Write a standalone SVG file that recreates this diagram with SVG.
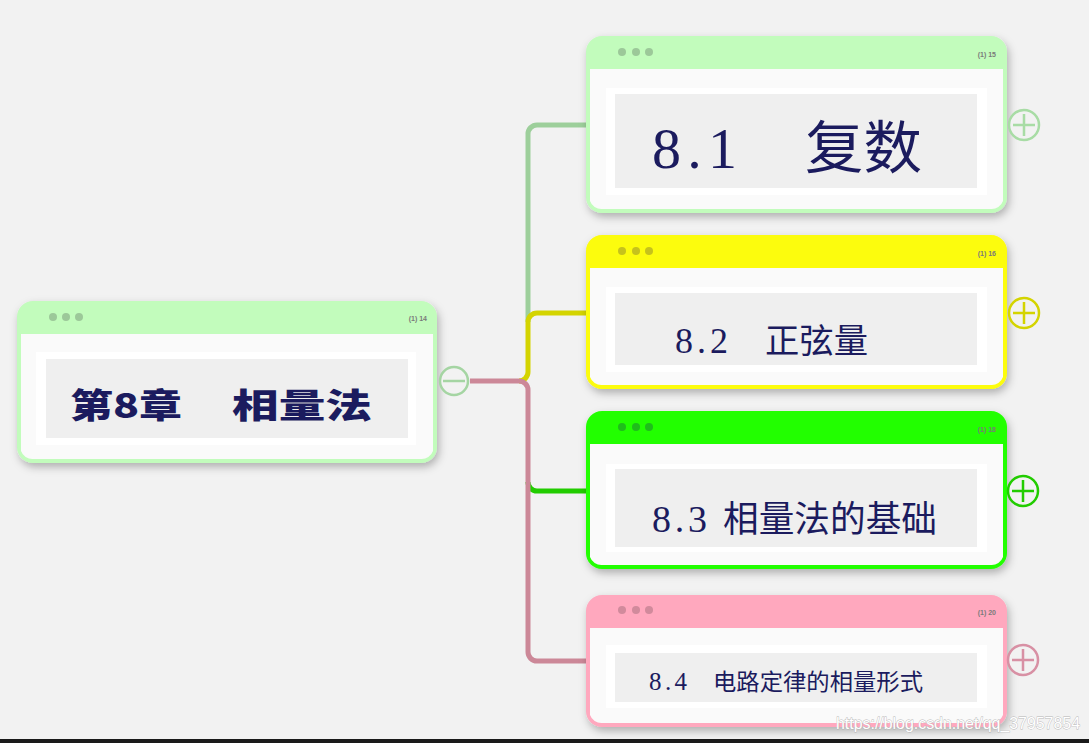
<svg xmlns="http://www.w3.org/2000/svg" width="1089" height="743" viewBox="0 0 1089 743">
<defs>
<filter id="sh" x="-10%" y="-10%" width="120%" height="130%">
<feDropShadow dx="2" dy="4" stdDeviation="4" flood-color="#000" flood-opacity="0.28"/>
</filter>
<style>
.body{fill:#fafafa}
.pad{fill:#ffffff}
.box{fill:#efefef}
.tag{font-family:"Liberation Sans",Arial,sans-serif;font-size:7px;font-weight:bold;fill:#7a7a7a;text-anchor:end}
.num{font-family:"Liberation Serif","Times New Roman",serif;fill:#1b1b5e}
.cjk{font-family:"Noto Sans CJK SC","Noto Sans",sans-serif;fill:#1b1b5e}
.conn{fill:none;stroke-width:5}
.btn{fill:#f2f2f2;stroke-width:2.5}
.btnl{stroke-width:2.5;fill:none}
</style>
</defs>
<rect width="1089" height="743" fill="#f2f2f2"/>

<g id="connectors">
<path class="conn" stroke="#9dcf9b" d="M586 125 H537 A9 9 0 0 0 528 134 V322"/>
<path class="conn" stroke="#d4d400" d="M586 313 H537 A9 9 0 0 0 528 322 V372 A9 9 0 0 1 519 381"/>
<path class="conn" stroke="#22cc00" d="M528 482 A9 9 0 0 0 537 491 H586"/>
<path class="conn" stroke="#cc8898" d="M470 381 H519 A9 9 0 0 1 528 390 V652 A9 9 0 0 0 537 661 H586"/>
</g>

<g id="root">
<rect x="17" y="301" width="420" height="162" rx="16" fill="#c2fcbc" filter="url(#sh)"/>
<path class="body" d="M21 334 H433 V451 A12 12 0 0 1 421 459 H33 A12 12 0 0 1 21 451 Z"/>
<rect class="pad" x="36" y="352" width="380" height="93"/>
<rect class="box" x="46" y="359" width="362" height="79"/>
<circle cx="53" cy="317" r="4" fill="#9cc899"/><circle cx="66" cy="317" r="4" fill="#9cc899"/><circle cx="79" cy="317" r="4" fill="#9cc899"/>
<text class="tag" x="427" y="321">(1) 14</text>
<text class="cjk" x="70" y="418" font-size="34" font-weight="900" textLength="112" lengthAdjust="spacingAndGlyphs">第8章</text>
<text class="cjk" x="232" y="418" font-size="34" font-weight="900" textLength="140" lengthAdjust="spacingAndGlyphs">相量法</text>
<circle class="btn" cx="454" cy="381" r="14" stroke="#a5d5a3"/>
<line class="btnl" x1="443" y1="381" x2="465" y2="381" stroke="#a5d5a3"/>
</g>

<g id="n81">
<rect x="586" y="36" width="421" height="177" rx="16" fill="#c2fcbc" filter="url(#sh)"/>
<path class="body" d="M590 69 H1003 V201 A12 12 0 0 1 991 209 H602 A12 12 0 0 1 590 201 Z"/>
<rect class="pad" x="606" y="88" width="381" height="107"/>
<rect class="box" x="615" y="94" width="362" height="94"/>
<circle cx="622" cy="52" r="4" fill="#9cc899"/><circle cx="636" cy="52" r="4" fill="#9cc899"/><circle cx="649" cy="52" r="4" fill="#9cc899"/>
<text class="tag" x="996" y="57">(1) 15</text>
<text class="num" x="652" y="168" font-size="58" textLength="85" lengthAdjust="spacing">8.1</text>
<text class="cjk" x="805" y="168" font-size="57" textLength="117" lengthAdjust="spacingAndGlyphs">复数</text>
<circle class="btn" cx="1024" cy="125" r="15" stroke="#a8dca5"/>
<path class="btnl" d="M1013 125 H1035 M1024 114 V136" stroke="#a8dca5"/>
</g>

<g id="n82">
<rect x="586" y="235" width="421" height="154" rx="16" fill="#fcfc08" filter="url(#sh)"/>
<path class="body" d="M590 268 H1003 V377 A12 12 0 0 1 991 385 H602 A12 12 0 0 1 590 377 Z"/>
<rect class="pad" x="606" y="287" width="381" height="85"/>
<rect class="box" x="615" y="293" width="362" height="72"/>
<circle cx="622" cy="251" r="4" fill="#c6c21c"/><circle cx="636" cy="251" r="4" fill="#c6c21c"/><circle cx="649" cy="251" r="4" fill="#c6c21c"/>
<text class="tag" x="996" y="256">(1) 16</text>
<text class="num" x="675" y="353" font-size="36" textLength="53" lengthAdjust="spacing">8.2</text>
<text class="cjk" x="765" y="353" font-size="34" textLength="103" lengthAdjust="spacingAndGlyphs">正弦量</text>
<circle class="btn" cx="1024" cy="313" r="15" stroke="#d4d400"/>
<path class="btnl" d="M1013 313 H1035 M1024 302 V324" stroke="#d4d400"/>
</g>

<g id="n83">
<rect x="586" y="411" width="421" height="158" rx="16" fill="#22ff00" filter="url(#sh)"/>
<path class="body" d="M590 444 H1003 V557 A12 12 0 0 1 991 565 H602 A12 12 0 0 1 590 557 Z"/>
<rect class="pad" x="606" y="464" width="381" height="88"/>
<rect class="box" x="615" y="469" width="362" height="78"/>
<circle cx="622" cy="427" r="4" fill="#1fbd1b"/><circle cx="636" cy="427" r="4" fill="#1fbd1b"/><circle cx="649" cy="427" r="4" fill="#1fbd1b"/>
<text class="tag" x="996" y="432">(1) 18</text>
<text class="num" x="652" y="532" font-size="38" textLength="55" lengthAdjust="spacing">8.3</text>
<text class="cjk" x="723" y="532" font-size="36" textLength="214" lengthAdjust="spacingAndGlyphs">相量法的基础</text>
<circle class="btn" cx="1023" cy="491" r="15" stroke="#22cc00"/>
<path class="btnl" d="M1012 491 H1034 M1023 480 V502" stroke="#22cc00"/>
</g>

<g id="n84">
<rect x="586" y="595" width="421" height="132" rx="16" fill="#ffa8be" filter="url(#sh)"/>
<path class="body" d="M590 628 H1003 V715 A12 12 0 0 1 991 723 H602 A12 12 0 0 1 590 715 Z"/>
<rect class="pad" x="606" y="645" width="381" height="63"/>
<rect class="box" x="615" y="653" width="362" height="49"/>
<circle cx="622" cy="610" r="4" fill="#d18a9c"/><circle cx="636" cy="610" r="4" fill="#d18a9c"/><circle cx="649" cy="610" r="4" fill="#d18a9c"/>
<text class="tag" x="996" y="615">(1) 20</text>
<text class="num" x="649" y="690" font-size="25" textLength="38" lengthAdjust="spacing">8.4</text>
<text class="cjk" x="713" y="690" font-size="23" textLength="210" lengthAdjust="spacingAndGlyphs">电路定律的相量形式</text>
<circle class="btn" cx="1023" cy="660" r="15" stroke="#d890a4"/>
<path class="btnl" d="M1012 660 H1034 M1023 649 V671" stroke="#d890a4"/>
</g>

<text x="836" y="729" font-family="'Liberation Sans',Arial,sans-serif" font-size="17" fill="#ffffff" stroke="#b5b5b5" stroke-width="0.8" paint-order="stroke" textLength="244" lengthAdjust="spacingAndGlyphs">https://blog.csdn.net/qq_37957854</text>
<rect x="0" y="739" width="1089" height="4" fill="#1a1a1a"/>
</svg>
